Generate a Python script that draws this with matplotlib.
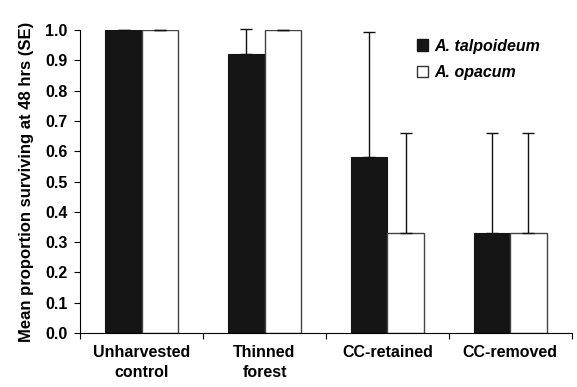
import numpy as np
import matplotlib.pyplot as plt
from matplotlib.patches import Patch

plt.rcParams['font.family'] = ['Liberation Sans', 'DejaVu Sans']

categories = ['Unharvested\ncontrol', 'Thinned\nforest', 'CC-retained', 'CC-removed']
talpoideum = [1.0, 0.92, 0.58, 0.33]
talpoideum_se = [0.0, 0.085, 0.415, 0.33]
opacum = [1.0, 1.0, 0.33, 0.33]
opacum_se = [0.0, 0.0, 0.33, 0.33]

fig = plt.figure(figsize=(5.77, 3.87), dpi=100)
ax = fig.add_axes([0.139, 0.14, 0.852, 0.782])

x = np.arange(len(categories))
w = 0.295
ax.bar(x - w / 2, talpoideum, w, color='#151515', edgecolor='#151515', linewidth=0.8)
ax.bar(x + w / 2, opacum, w, color='white', edgecolor='#444444', linewidth=1.0)
ax.errorbar(x - w / 2, talpoideum, yerr=[np.zeros(4), talpoideum_se], fmt='none',
            ecolor='#111111', elinewidth=1.0, capsize=4, capthick=1.0, clip_on=False)
ax.errorbar(x + w / 2, opacum, yerr=[np.zeros(4), opacum_se], fmt='none',
            ecolor='#111111', elinewidth=1.0, capsize=4, capthick=1.0, clip_on=False)

ax.set_xlim(-0.5, len(categories) - 0.5)
ax.set_ylim(0, 1.0)
yt = np.arange(0, 1.01, 0.1)
ax.set_yticks(yt)
ax.set_yticklabels([f'{v:.1f}' for v in yt], fontsize=11.5, fontweight='bold')
ax.set_xticks(np.arange(-0.5, len(categories), 1.0))
ax.set_xticklabels([])
ax.set_xticks(x, minor=True)
ax.set_xticklabels(categories, minor=True, fontsize=11.5, fontweight='bold', linespacing=1.35)
ax.tick_params(axis='x', which='minor', length=0, pad=9)
ax.tick_params(axis='x', which='major', length=4, direction='out')
ax.tick_params(axis='y', length=4, direction='out', pad=5)
ax.spines['top'].set_visible(False)
ax.spines['right'].set_visible(False)
ax.set_ylabel('Mean proportion surviving at 48 hrs (SE)', fontsize=12, fontweight='bold', labelpad=8)

handles = [Patch(facecolor='#151515', edgecolor='#151515'),
           Patch(facecolor='white', edgecolor='#333333')]
ax.legend(handles, ['A. talpoideum', 'A. opacum'], loc='upper left',
          bbox_to_anchor=(0.655, 1.02), frameon=False, handlelength=0.7, handleheight=0.7,
          handletextpad=0.4, labelspacing=0.75,
          prop={'weight': 'bold', 'style': 'italic', 'size': 11.5})

plt.savefig('out.png', dpi=100)
